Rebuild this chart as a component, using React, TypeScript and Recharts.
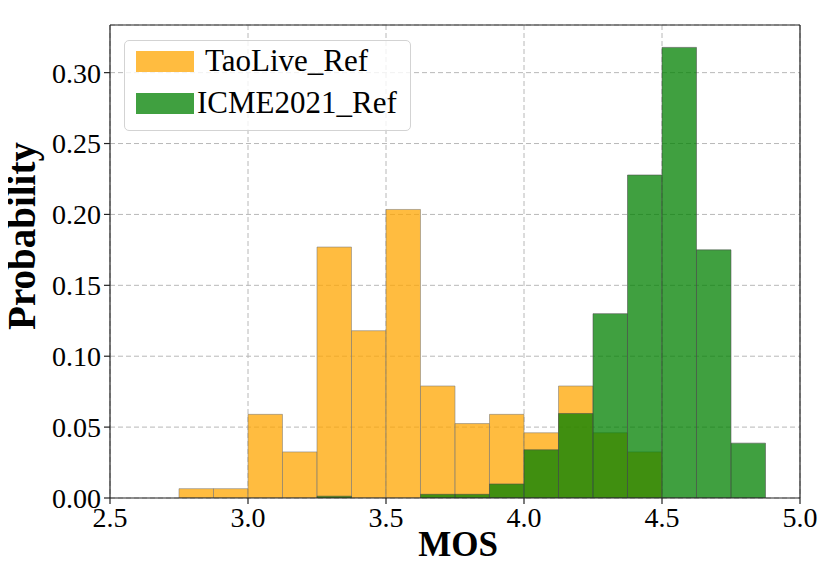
import {
  ComposedChart,
  Bar,
  XAxis,
  YAxis,
  CartesianGrid,
  ReferenceLine,
  Legend,
} from "recharts";

// histogram bin centres (bin width 0.125, from 2.75 to 4.875)
const BIN_CENTERS = [
  2.8125, 2.9375, 3.0625, 3.1875, 3.3125, 3.4375, 3.5625, 3.6875, 3.8125,
  3.9375, 4.0625, 4.1875, 4.3125, 4.4375, 4.5625, 4.6875, 4.8125,
];
const TAOLIVE = [
  0.0066, 0.0066, 0.059, 0.0325, 0.177, 0.118, 0.2035, 0.079, 0.0525, 0.059,
  0.046, 0.079, 0.046, 0.0325, 0, 0, 0,
];
const ICME2021 = [
  0, 0, 0, 0, 0.0013, 0, 0, 0.0026, 0.0026, 0.0099, 0.034, 0.0596, 0.13,
  0.2278, 0.3178, 0.175, 0.0387,
];
const X_TICKS = [2.5, 3.0, 3.5, 4.0, 4.5, 5.0];
const Y_TICKS = [0, 0.05, 0.1, 0.15, 0.2, 0.25, 0.3];
const X_DOMAIN: [number, number] = [2.5, 5.0];
const Y_MAX = 0.3336;
const BIN_WIDTH = 0.125;

const SERIES = [
  { key: "taolive", name: "TaoLive_Ref", color: "#FFA500" },
  { key: "icme", name: "ICME2021_Ref", color: "#008000" },
];

const data = BIN_CENTERS.map((x, i) => ({
  x,
  taolive: TAOLIVE[i],
  icme: ICME2021[i],
}));

const W = 830;
const H = 565;
const MARGIN = { top: 25, right: 30, bottom: 0, left: 0 };
const Y_AXIS_W = 110;
const X_AXIS_H = 67;
const PLOT_W = W - MARGIN.left - MARGIN.right - Y_AXIS_W;
// a hair under the bin width, otherwise recharts shrinks the bar to 90%
const BAR_PX = (PLOT_W / (X_DOMAIN[1] - X_DOMAIN[0])) * BIN_WIDTH - 0.02;

const FONT = '"Liberation Serif", "Times New Roman", serif';
const AXIS = "#222";

function LegendBox() {
  return (
    <div
      style={{
        boxSizing: "border-box",
        width: 287,
        height: 91,
        border: "1px solid #d3d3d3",
        borderRadius: 5,
        background: "rgba(255,255,255,0.8)",
        fontFamily: FONT,
        fontSize: 31,
        color: "#000",
        paddingTop: 8,
        paddingLeft: 11,
      }}
    >
      {SERIES.map((s, i) => (
        <div
          key={s.key}
          style={{
            display: "flex",
            alignItems: "center",
            height: 21,
            marginBottom: i === 0 ? 21 : 0,
            marginTop: i === 0 ? 2 : 0,
          }}
        >
          <span
            style={{
              width: 58,
              height: 21,
              background: s.color,
              opacity: 0.75,
              flexShrink: 0,
            }}
          />
          <span style={{ marginLeft: i === 0 ? 11 : 3, lineHeight: "21px", position: "relative", top: -1 }}>
            {s.name}
          </span>
        </div>
      ))}
    </div>
  );
}

export default function App() {
  return (
    <div style={{ margin: -8, width: W, height: H, background: "#fff" }}>
      <ComposedChart
        width={W}
        height={H}
        data={data}
        margin={MARGIN}
        barGap={0}
        barCategoryGap={0}
      >
        <CartesianGrid stroke="#b8b8b8" strokeDasharray="5 3" strokeWidth={1} />
        <XAxis
          dataKey="x"
          type="number"
          domain={X_DOMAIN}
          ticks={X_TICKS}
          tickFormatter={(v: number) => v.toFixed(1)}
          height={X_AXIS_H}
          tick={{ fill: "#000", fontSize: 28, fontFamily: FONT }}
          tickSize={6}
          tickMargin={3}
          axisLine={{ stroke: AXIS, strokeWidth: 1.2 }}
          tickLine={{ stroke: AXIS, strokeWidth: 1.2 }}
          allowDataOverflow
          label={{
            content: () => (
              <text
                x={458}
                y={556}
                textAnchor="middle"
                fontFamily={FONT}
                fontWeight="bold"
                fontSize={35}
                fill="#000"
              >
                MOS
              </text>
            ),
          }}
        />
        <XAxis xAxisId="g" dataKey="x" type="number" domain={X_DOMAIN} hide allowDataOverflow />
        <YAxis
          type="number"
          domain={[0, Y_MAX]}
          ticks={Y_TICKS}
          tickFormatter={(v: number) => v.toFixed(2)}
          width={Y_AXIS_W}
          tick={{ fill: "#000", fontSize: 28, fontFamily: FONT }}
          tickSize={6}
          tickMargin={3}
          axisLine={{ stroke: AXIS, strokeWidth: 1.2 }}
          tickLine={{ stroke: AXIS, strokeWidth: 1.2 }}
          allowDataOverflow
          label={{
            content: () => (
              <text
                x={35}
                y={236}
                transform="rotate(-90 35 236)"
                textAnchor="middle"
                fontFamily={FONT}
                fontWeight="bold"
                fontSize={39}
                fill="#000"
              >
                Probability
              </text>
            ),
          }}
        />
        <Legend
          layout="horizontal"
          verticalAlign="middle"
          align="center"
          content={() => <LegendBox />}
          wrapperStyle={{ top: 40, left: 124, width: 287, height: 91 }}
        />
        <Bar
          dataKey="taolive"
          name="TaoLive_Ref"
          fill="#FFA500"
          fillOpacity={0.75}
          stroke="#7a7a7a"
          strokeOpacity={0.55}
          strokeWidth={1}
          barSize={BAR_PX}
          isAnimationActive={false}
        />
        <Bar
          dataKey="icme"
          name="ICME2021_Ref"
          xAxisId="g"
          fill="#008000"
          fillOpacity={0.75}
          stroke="#4a4a4a"
          strokeOpacity={0.55}
          strokeWidth={1}
          barSize={BAR_PX}
          isAnimationActive={false}
        />
        <ReferenceLine x={X_DOMAIN[1]} stroke={AXIS} strokeWidth={1.2} />
        <ReferenceLine y={Y_MAX} stroke={AXIS} strokeWidth={1.2} />
      </ComposedChart>
    </div>
  );
}
